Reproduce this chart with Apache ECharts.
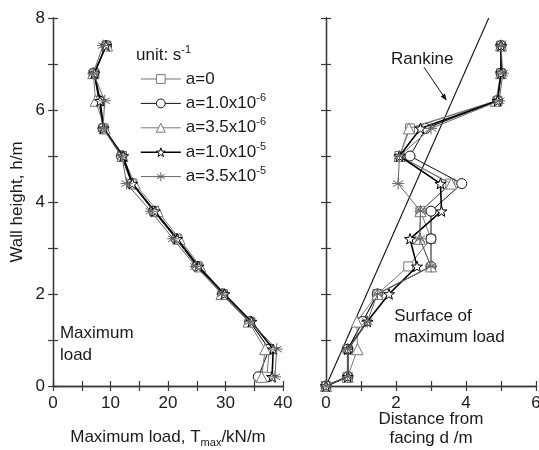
<!DOCTYPE html>
<html>
<head>
<meta charset="utf-8">
<script src="https://cdn.jsdelivr.net/npm/echarts@6/dist/echarts.min.js"></script>
<style>
  html, body { margin: 0; padding: 0; background: #fff; }
  #chart { width: 539px; height: 450px; }
</style>
</head>
<body>
<div id="chart"></div>
<script>
// Wall heights (m) at which the reinforcement layers were evaluated
const heights = [7.4, 6.8, 6.2, 5.6, 5.0, 4.4, 3.8, 3.2, 2.6, 2.0, 1.4, 0.8, 0.2];
// the failure surface starts at the toe of the facing
const surfaceHeights = heights.concat([0]);

const seriesNames = ['a=0', 'a=1.0x10{sup|-6}', 'a=3.5x10{sup|-6}', 'a=1.0x10{sup|-5}', 'a=3.5x10{sup|-5}'];

// Maximum load T_max (kN/m) per layer
const loadA0 = [9.3, 7.2, 8.0, 8.8, 12.0, 13.8, 17.6, 21.6, 25.2, 29.6, 34.3, 37.6, 37.2];
const loadA1 = [9.3, 7.1, 8.0, 8.7, 11.9, 13.7, 17.5, 21.4, 25.0, 29.5, 34.2, 37.6, 35.7];
const loadA2 = [9.4, 7.0, 7.4, 9.0, 12.1, 14.2, 18.2, 22.0, 25.6, 29.3, 34.0, 36.9, 36.3];
const loadA3 = [9.2, 7.2, 8.2, 8.8, 12.2, 13.8, 17.7, 21.6, 25.3, 29.8, 34.5, 38.3, 38.1];
const loadA4 = [8.7, 7.0, 9.0, 8.7, 12.0, 12.8, 17.0, 20.9, 24.8, 29.4, 34.3, 38.9, 38.6];

// Distance from facing (m) of the maximum-load point per layer
const distA0 = [5.0, 5.0, 4.9, 2.4, 2.1, 3.55, 2.7, 3.0, 2.35, 1.47, 1.05, 0.62, 0.62, 0];
const distA1 = [5.0, 5.0, 4.9, 2.85, 2.4, 3.88, 3.0, 3.0, 3.0, 1.47, 1.05, 0.62, 0.62, 0];
const distA2 = [5.0, 5.0, 4.85, 2.37, 2.1, 3.58, 2.7, 2.68, 3.0, 1.47, 0.88, 0.9, 0.62, 0];
const distA3 = [5.0, 5.0, 4.9, 2.7, 2.1, 3.27, 3.3, 2.4, 2.6, 1.8, 1.18, 0.62, 0.62, 0];
const distA4 = [5.0, 5.05, 4.95, 3.0, 2.1, 2.06, 2.7, 2.68, 3.0, 1.47, 1.18, 0.62, 0.62, 0];

// Rankine active failure plane
const rankineDist = [0, 4.65];
const rankineHeight = [0, 8];

const loadTicks = [0, 10, 20, 30, 40];
const distTicks = [0, 2, 4, 6];
const heightTicks = [0, 2, 4, 6, 8];
const distMax = 6;

const loads = [loadA0, loadA1, loadA2, loadA3, loadA4];
const dists = [distA0, distA1, distA2, distA3, distA4];

const FONT = "'Liberation Sans', Arial, Helvetica, sans-serif";
const INK = '#1a1a1a';
const AXIS = '#3a3a3a';

const STAR = 'path://M0,-10 L2.35,-3.24 L9.51,-3.09 L3.8,1.24 L5.88,8.09 L0,4 L-5.88,8.09 L-3.8,1.24 L-9.51,-3.09 L-2.35,-3.24 Z';
const ASTERISK = 'path://M0,-10 L0,10 M-8.66,-5 L8.66,5 M-8.66,5 L8.66,-5 M-10,0 L10,0';
const markers = ['rect', 'circle', 'triangle', STAR, ASTERISK];
const markerSizes = [9, 10, 11, 11, 12];
const lineColors = ['#777', '#111', '#777', '#000', '#666'];
const lineWidths = [1, 1, 1, 1.6, 1];

const sup = { fontSize: 11, verticalAlign: 'top', lineHeight: 9, fontFamily: FONT, color: INK };
const sub = { fontSize: 11, verticalAlign: 'bottom', lineHeight: 9, fontFamily: FONT, color: INK };

function pairs(xs, ys) { return xs.map((x, i) => [x, ys[i]]); }

function tickAxis(common) {
  return Object.assign({
    type: 'value',
    axisLine: { show: true, lineStyle: { color: AXIS, width: 1.3 } },
    axisTick: { show: true, inside: true, length: 5, lineStyle: { color: AXIS, width: 1.2 } },
    splitLine: { show: false }
  }, common);
}

const labelStyle = (ticks, skip) => ({
  show: true, color: INK, fontSize: 17, fontFamily: FONT,
  showMinLabel: true, showMaxLabel: true,
  formatter: (v) => (ticks.includes(v) && v !== skip) ? String(v) : ''
});

const xAxes = [
  tickAxis({ gridIndex: 0, min: 0, max: 40, interval: 5, position: 'bottom', axisLabel: Object.assign(labelStyle(loadTicks), { margin: 9 }) }),
  tickAxis({ gridIndex: 0, min: 0, max: 40, interval: 5, position: 'top', axisLabel: { show: false } }),
  // the last distance label sits on the page edge and is drawn separately below
  tickAxis({ gridIndex: 1, min: 0, max: distMax, interval: 1, position: 'bottom', axisLabel: Object.assign(labelStyle(distTicks, distMax), { margin: 9 }) }),
  tickAxis({ gridIndex: 1, min: 0, max: distMax, interval: 1, position: 'top', axisLabel: { show: false } })
];
const yAxes = [
  tickAxis({ gridIndex: 0, min: 0, max: 8, interval: 1, position: 'left', axisLabel: Object.assign(labelStyle(heightTicks), { margin: 8 }) }),
  tickAxis({ gridIndex: 0, min: 0, max: 8, interval: 1, position: 'right', axisLabel: { show: false } }),
  tickAxis({ gridIndex: 1, min: 0, max: 8, interval: 1, position: 'left', axisLabel: { show: false } }),
  tickAxis({ gridIndex: 1, min: 0, max: 8, interval: 1, position: 'right', axisLabel: { show: false } })
];

function curve(i, grid) {
  const xs = grid === 0 ? loads[i] : dists[i];
  const ys = grid === 0 ? heights : surfaceHeights;
  return {
    type: 'line',
    name: seriesNames[i],
    xAxisIndex: grid === 0 ? 0 : 2,
    yAxisIndex: grid === 0 ? 0 : 2,
    data: pairs(xs, ys),
    symbol: markers[i],
    symbolSize: markerSizes[i],
    symbolKeepAspect: true,
    showAllSymbol: true,
    itemStyle: { color: '#fff', borderColor: lineColors[i], borderWidth: 1 },
    lineStyle: { color: lineColors[i], width: lineWidths[i] },
    emphasis: { disabled: true },
    z: 2 + i
  };
}

const series = [];
for (let i = 0; i < 5; i++) series.push(curve(i, 0));
for (let i = 0; i < 5; i++) series.push(curve(i, 1));
series.push({
  type: 'line',
  name: 'Rankine',
  xAxisIndex: 2, yAxisIndex: 2,
  data: pairs(rankineDist, rankineHeight),
  symbol: 'none',
  lineStyle: { color: '#111', width: 1.1 },
  emphasis: { disabled: true },
  z: 1
});

const legendItems = seriesNames.map((name, i) => ({
  name,
  itemStyle: { color: '#fff', borderColor: lineColors[i], borderWidth: 1 },
  lineStyle: { color: lineColors[i], width: lineWidths[i] }
}));

const chart = echarts.init(document.getElementById('chart'), null, { renderer: 'canvas' });
chart.setOption({
  animation: false,
  backgroundColor: '#fff',
  grid: [
    { left: 53, top: 18, width: 230, height: 368 },
    { left: 326, top: 18, width: 212, height: 368 }
  ],
  xAxis: xAxes,
  yAxis: yAxes,
  legend: {
    data: legendItems,
    orient: 'vertical',
    left: 135,
    top: 63,
    itemWidth: 40,
    itemHeight: 11,
    itemGap: 2.4,
    selectedMode: false,
    textStyle: { color: INK, fontSize: 17, fontFamily: FONT, lineHeight: 22, rich: { sup } }
  },
  series
});

// Annotations placed in data space of their panel
function px(grid, pt) { return chart.convertToPixel({ gridIndex: grid }, pt); }
const textBase = { fill: INK, fontSize: 17, fontFamily: FONT };

const rkLabel = px(1, [2.75, 7.1]);
const arrowFrom = px(1, [2.8, 6.93]);
const arrowTo = px(1, [3.45, 6.2]);
const ang = Math.atan2(arrowTo[1] - arrowFrom[1], arrowTo[0] - arrowFrom[0]);
const ah = 7, aw = 2.6;
const back = [arrowTo[0] - ah * Math.cos(ang), arrowTo[1] - ah * Math.sin(ang)];
const headPts = [
  arrowTo,
  [back[0] + aw * Math.sin(ang), back[1] - aw * Math.cos(ang)],
  [back[0] - aw * Math.sin(ang), back[1] + aw * Math.cos(ang)]
];

const surfaceAt = px(1, [1.95, 1.28]);
const maxLoadAt = px(0, [1.2, 0.91]);
const loadTitleX = (px(0, [0, 0])[0] + px(0, [40, 0])[0]) / 2;
const distTitleX = (px(1, [0, 0])[0] + px(1, [distMax, 0])[0]) / 2;
const heightMid = px(0, [0, 4.0])[1];
const edgeTick = px(1, [distMax, 0]);

chart.setOption({
  graphic: [
    { type: 'text', left: 136, top: 44, style: Object.assign({ text: 'unit: s{sup|-1}', lineHeight: 22, rich: { sup } }, textBase) },
    { type: 'text', x: maxLoadAt[0], y: maxLoadAt[1], style: Object.assign({ text: 'Maximum\nload', lineHeight: 22, verticalAlign: 'middle' }, textBase) },
    { type: 'text', x: surfaceAt[0], y: surfaceAt[1], style: Object.assign({ text: 'Surface of\nmaximum load', lineHeight: 21, verticalAlign: 'middle' }, textBase) },
    { type: 'text', x: rkLabel[0], y: rkLabel[1], style: Object.assign({ text: 'Rankine', align: 'center', verticalAlign: 'middle' }, textBase) },
    { type: 'line', shape: { x1: arrowFrom[0], y1: arrowFrom[1], x2: back[0], y2: back[1] }, style: { stroke: '#111', lineWidth: 1 } },
    { type: 'polygon', shape: { points: headPts }, style: { fill: '#111' } },
    { type: 'text', x: edgeTick[0], y: edgeTick[1] + 9, style: Object.assign({ text: String(distMax), align: 'center', verticalAlign: 'top' }, textBase) },
    { type: 'text', x: loadTitleX, y: 437, style: Object.assign({ text: 'Maximum load, T{sub|max}/kN/m', align: 'center', verticalAlign: 'middle', lineHeight: 22, rich: { sub } }, textBase) },
    { type: 'text', x: distTitleX, y: 429, style: Object.assign({ text: 'Distance from\nfacing d /m', align: 'center', verticalAlign: 'middle', lineHeight: 19 }, textBase) },
    { type: 'text', x: 17, y: heightMid, rotation: Math.PI / 2, style: Object.assign({ text: 'Wall height, h/m', align: 'center', verticalAlign: 'middle' }, textBase) }
  ]
});
</script>
</body>
</html>
